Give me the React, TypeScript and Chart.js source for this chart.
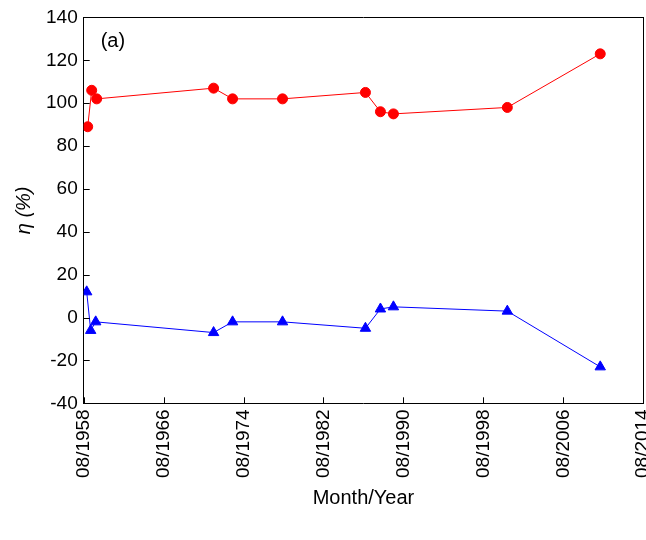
import React, { useEffect, useRef } from 'react';
import Chart from 'chart.js/auto';

// x = years since 08/1958
const yearsSince = [0.4, 0.8, 1.3, 13, 14.9, 19.9, 28.2, 29.7, 31, 42.4, 51.7];
const redValues = [89, 106, 102, 107, 102, 102, 105, 96, 95, 98, 123];
const blueYears = [0.3, 0.7, 1.2, 13, 14.9, 19.9, 28.2, 29.7, 31, 42.4, 51.7];
const blueValues = [12, -6, -2, -7, -2, -2, -5, 4, 5, 3, -23];
const startYear = 1958;

const App: React.FC = () => {
  const chartRef = useRef<HTMLCanvasElement>(null);

  useEffect(() => {
    if (!chartRef.current) return;
    document.body.style.margin = '0';
    const font = { family: 'Liberation Sans, Arial, sans-serif', size: 19 };
    const labelPlugin = {
      id: 'panelLabel',
      afterDraw(chart: any) {
        const { ctx, chartArea } = chart;
        const xs = chart.scales.x;
        const ys = chart.scales.y;
        ctx.save();
        ctx.fillStyle = '#000';
        ctx.font = '20px Liberation Sans, Arial, sans-serif';
        ctx.textBaseline = 'top';
        ctx.fillText('(a)', chartArea.left + 17, chartArea.top + 14);
        // inward ticks
        ctx.strokeStyle = '#000';
        ctx.lineWidth = 1;
        ctx.beginPath();
        xs.ticks.forEach((t: any) => {
          const px = Math.round(xs.getPixelForValue(t.value)) + 0.5;
          ctx.moveTo(px, chartArea.bottom);
          ctx.lineTo(px, chartArea.bottom - 6);
        });
        ys.ticks.forEach((t: any) => {
          const py = Math.round(ys.getPixelForValue(t.value)) + 0.5;
          ctx.moveTo(chartArea.left, py);
          ctx.lineTo(chartArea.left + 6, py);
        });
        ctx.stroke();
        ctx.restore();
      },
    };
    const myChart = new Chart(chartRef.current, {
      type: 'scatter',
      data: {
        datasets: [
          {
            data: yearsSince.map((x, i) => ({ x, y: redValues[i] })),
            showLine: true,
            borderColor: '#ff0000',
            backgroundColor: '#ff0000',
            borderWidth: 1,
            pointStyle: 'circle',
            pointRadius: 5,
          },
          {
            data: blueYears.map((x, i) => ({ x, y: blueValues[i] })),
            showLine: true,
            borderColor: '#0000ff',
            backgroundColor: '#0000ff',
            borderWidth: 1,
            pointStyle: 'triangle',
            pointRadius: 6,
          },
        ],
      },
      options: {
        animation: false,
        responsive: false,
        layout: { padding: { top: 10, right: 0, left: 8, bottom: 26 } },
        plugins: { legend: { display: false }, tooltip: { enabled: false } },
        scales: {
          x: {
            type: 'linear',
            min: 0,
            max: 56,
            border: { color: '#000', width: 1 },
            grid: { display: false, drawTicks: false },
            ticks: {
              stepSize: 8,
              padding: 6,
              color: '#000',
              font,
              maxRotation: 90,
              minRotation: 90,
              callback: (v: any) => '08/' + (startYear + Number(v)),
            },
            title: { display: true, text: 'Month/Year', color: '#000', font: { ...font, size: 20 }, padding: { top: 2 } },
          },
          y: {
            min: -40,
            max: 140,
            border: { color: '#000', width: 1 },
            grid: { display: false, drawTicks: false },
            ticks: { stepSize: 20, padding: 6, color: '#000', font },
            title: { display: true, text: 'η (%)', color: '#000', font: { ...font, size: 20, style: 'italic' }, padding: { bottom: 4 } },
          },
          x2: {
            type: 'linear', position: 'top', min: 0, max: 56,
            border: { color: '#000' }, grid: { display: false, drawTicks: false }, ticks: { display: false },
          },
          y2: {
            position: 'right', min: -40, max: 140,
            border: { color: '#000' }, grid: { display: false, drawTicks: false }, ticks: { display: false },
          },
        },
      },
      plugins: [labelPlugin],
    });
    return () => myChart.destroy();
  }, []);

  return (
    <div style={{ width: 646, height: 540, overflow: 'hidden' }}>
      <canvas ref={chartRef} width={672} height={540} />
    </div>
  );
};

export default App;
